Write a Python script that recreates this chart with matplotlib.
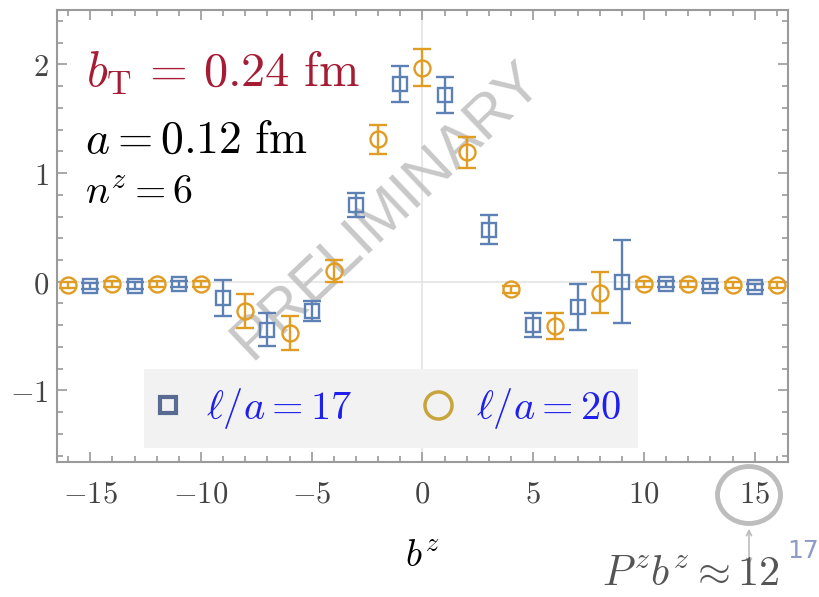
import matplotlib
matplotlib.use('Agg')
import matplotlib.pyplot as plt
from matplotlib.ticker import MultipleLocator, FuncFormatter
from matplotlib.patches import Ellipse, FancyArrowPatch
from matplotlib.lines import Line2D

plt.rcParams['mathtext.fontset'] = 'cm'
plt.rcParams['font.family'] = 'serif'
plt.rcParams['font.serif'] = ['DejaVu Serif']

# l/a = 17 (squares, odd b^z)
bz_17 = [-15, -13, -11, -9, -7, -5, -3, -1, 1, 3, 5, 7, 9, 11, 13, 15]
val_17 = [-0.04, -0.035, -0.02, -0.15, -0.44, -0.27, 0.71, 1.82,
          1.72, 0.48, -0.40, -0.23, 0.00, -0.02, -0.04, -0.05]
err_17 = [0.03, 0.03, 0.03, 0.165, 0.15, 0.09, 0.11, 0.165,
          0.165, 0.13, 0.11, 0.21, 0.38, 0.03, 0.03, 0.03]

# l/a = 20 (circles, even b^z)
bz_20 = [-16, -14, -12, -10, -8, -6, -4, -2, 0, 2, 4, 6, 8, 10, 12, 14, 16]
val_20 = [-0.03, -0.02, -0.02, -0.02, -0.27, -0.47, 0.10, 1.31, 1.97,
          1.19, -0.07, -0.41, -0.10, -0.02, -0.02, -0.03, -0.03]
err_20 = [0.03, 0.03, 0.03, 0.03, 0.16, 0.155, 0.10, 0.13, 0.17,
          0.145, 0.03, 0.12, 0.19, 0.03, 0.03, 0.03, 0.03]

x_ticks = [-15, -10, -5, 0, 5, 10, 15]
y_ticks = [-1, 0, 1, 2]
labels = [r'$\ell/a = 17$', r'$\ell/a = 20$']

blue = '#5E81B5'
orange = '#E19C24'
frame = '#9a9a9a'

fig = plt.figure(figsize=(8.19, 5.97), dpi=100)
renderer = fig.canvas.get_renderer()
ax = fig.add_axes([0.0696, 0.226, 0.8925, 0.757])


def fit_size(s, width_px, size0=30):
    """font size that gives the text a given width in pixels"""
    t = fig.text(0, 0, s, fontsize=size0)
    w = t.get_window_extent(renderer).width
    t.remove()
    return size0 * width_px / w


ax.axhline(0, color='#e4e4e4', lw=1.2, zorder=0)
ax.axvline(0, color='#e4e4e4', lw=1.2, zorder=0)

ax.errorbar(bz_17, val_17, yerr=err_17, fmt='s', ms=10.5, mfc='none',
            mec=blue, mew=1.7, ecolor=blue, elinewidth=1.7, capsize=6.5,
            capthick=1.7, zorder=3)
ax.errorbar(bz_20, val_20, yerr=err_20, fmt='o', ms=11.5, mfc='none',
            mec=orange, mew=1.7, ecolor=orange, elinewidth=1.7, capsize=6.5,
            capthick=1.7, zorder=3)

ax.set_xlim(-16.5, 16.5)
ax.set_ylim(-1.66, 2.5)

ax.xaxis.set_minor_locator(MultipleLocator(1))
ax.yaxis.set_minor_locator(MultipleLocator(0.2))
ax.set_xticks(x_ticks)
ax.set_yticks(y_ticks)
fmt = FuncFormatter(lambda v, p: r'$%g$' % v)
ax.xaxis.set_major_formatter(fmt)
ax.yaxis.set_major_formatter(fmt)

ax.tick_params(which='both', direction='in', top=True, right=True,
               color=frame, width=1.2, labelcolor='#444444', labelsize=22)
ax.tick_params(which='major', length=7)
ax.tick_params(which='minor', length=4)
ax.tick_params(axis='x', pad=12)
ax.tick_params(axis='y', pad=6)
for s in ax.spines.values():
    s.set_color(frame)
    s.set_linewidth(1.5)

ax.set_xlabel(r'$b^z$', fontsize=27, labelpad=20)

# labels in the upper left
txt_bt = r'$b_{\rm T} \,=\, 0.24\ {\rm fm}$'
txt_a = r'$a = 0.12\ {\rm fm}$'
txt_n = r'$n^z = 6$'
ax.text(0.04, 0.83, txt_bt, transform=ax.transAxes,
        fontsize=fit_size(txt_bt, 274), color='#A51C34', va='baseline')
ax.text(0.038, 0.684, txt_a, transform=ax.transAxes,
        fontsize=fit_size(txt_a, 223), color='black', va='baseline')
ax.text(0.038, 0.573, txt_n, transform=ax.transAxes,
        fontsize=fit_size(txt_n, 108), color='black', va='baseline')

# watermark
ax.text(0.451, 0.557, 'PRELIMINARY', transform=ax.transAxes, fontsize=43,
        family='Liberation Sans', color='#c2c2c2', alpha=0.9,
        rotation=43.5, ha='center', va='center', zorder=1)

# legend, laid out so that markers and texts sit where they do in the original
leg_fs = fit_size(labels[0], 146)
em = leg_fs * 100 / 72
bpad = 0.42
hlen = 2 * (24 / em - bpad)
tpad = 62 / em - bpad - hlen
cspace = (438 - 352) / em - hlen / 2
handles = [Line2D([], [], ls='none', marker='s', ms=12, mfc='none',
                  mec='#5a6b93', mew=3),
           Line2D([], [], ls='none', marker='o', ms=19.5, mfc='none',
                  mec='#c8a43c', mew=2.5)]
leg = ax.legend(handles, labels, ncol=2,
                loc='lower left', bbox_to_anchor=(0.119, 0.031),
                borderaxespad=0, fontsize=leg_fs,
                labelcolor='#2020ee', facecolor='#f2f2f2', edgecolor='none',
                framealpha=1, fancybox=False, handletextpad=tpad,
                columnspacing=cspace, borderpad=bpad, handlelength=hlen)
leg.set_zorder(2)

# circle around tick 15 and arrow to P^z b^z
fig.add_artist(Ellipse((749 / 819, 1 - 495 / 597), 63 / 819, 57 / 597,
                       transform=fig.transFigure, fill=False,
                       ec='#bdbdbd', lw=3.5))
fig.add_artist(FancyArrowPatch((749 / 819, 1 - 526 / 597),
                               (749 / 819, 1 - 568 / 597),
                               transform=fig.transFigure, arrowstyle='<->',
                               mutation_scale=9, color='#bdbdbd', lw=1.2))
txt_p = r'$P^z b^z \approx 12$'
fig.text(780 / 819, 3 / 597, txt_p, fontsize=fit_size(txt_p, 178),
         color='#555555', ha='right', va='bottom')
fig.text(803 / 819, 1 - 551 / 597, '17', fontsize=18, family='DejaVu Sans',
         color='#8C9BC8', ha='center', va='center')

fig.savefig('out.png', dpi=100)
